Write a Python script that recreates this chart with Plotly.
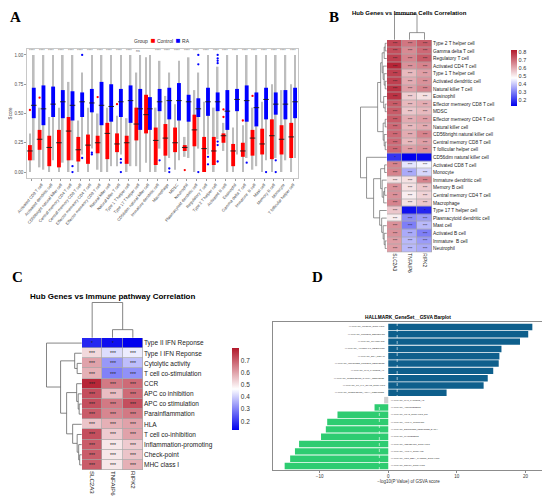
import plotly.graph_objects as go

W, H = 550, 503
# the page puts the figure 8px in from the window's top-left corner
OFF = 8


def fx(px):
    return (px - OFF) / W


def fy(py):
    return 1 - (py - OFF) / H


# ---------------- panel A data (ssGSEA scores, Control vs RA) ----------------
cells = ["Activated CD4 T cell", "Activated CD8 T cell", "Activated dendritic cell",
         "CD56bright natural killer cell", "Central memory CD4 T cell", "Central memory CD8 T cell",
         "Effector memeory CD4 T cell", "Effector memeory CD8 T cell", "Natural killer cell",
         "Natural killer T cell", "Type 1 T helper cell", "Type 17 T helper cell",
         "CD56dim natural killer cell", "Immature dendritic cell", "Macrophage", "MDSC",
         "Neutrophil", "Plasmacytoid dendritic cell", "Regulatory T cell", "Type 2 T helper cell",
         "Activated B cell", "Eosinophil", "Gamma delta T cell", "Immature  B cell", "Mast cell",
         "Memory B cell", "Monocyte", "T follicular helper cell"]

ctrl_q1 = [0.10, 0.19, 0.05, 0.04, 0.10, 0.09, 0.07, 0.16, 0.11, 0.17, 0.07, 0.27, 0.33, 0.06,
           0.14, 0.17, 0.18, 0.22, 0.00, 0.06, 0.25, 0.05, 0.13, 0.14, 0.15, 0.11, 0.15, 0.12]
ctrl_med = [0.18, 0.28, 0.21, 0.25, 0.35, 0.19, 0.23, 0.25, 0.33, 0.24, 0.25, 0.41, 0.49, 0.27,
            0.29, 0.25, 0.21, 0.36, 0.20, 0.18, 0.31, 0.18, 0.18, 0.29, 0.24, 0.31, 0.28, 0.30]
ctrl_q3 = [0.23, 0.36, 0.31, 0.36, 0.47, 0.30, 0.32, 0.31, 0.42, 0.33, 0.31, 0.55, 0.66, 0.38,
           0.41, 0.38, 0.23, 0.49, 0.30, 0.30, 0.33, 0.24, 0.25, 0.36, 0.37, 0.45, 0.40, 0.42]
ctrl_lo = [0.00, 0.04, 0.00, 0.00, 0.00, 0.00, 0.00, 0.02, 0.00, 0.05, 0.00, 0.05, 0.08, 0.00,
           0.00, 0.02, 0.13, 0.00, 0.00, 0.00, 0.18, 0.00, 0.00, 0.02, 0.00, 0.00, 0.00, 0.00]
ctrl_hi = [0.33, 0.55, 0.47, 0.55, 0.77, 0.44, 0.55, 0.50, 0.55, 0.48, 0.46, 0.85, 0.98, 0.55,
           0.65, 0.58, 0.30, 0.70, 0.60, 0.55, 0.42, 0.38, 0.40, 0.55, 0.60, 0.75, 0.70, 0.75]

ra_q1 = [0.46, 0.40, 0.47, 0.46, 0.44, 0.47, 0.51, 0.40, 0.43, 0.47, 0.42, 0.36, 0.36, 0.52,
         0.45, 0.44, 0.43, 0.47, 0.48, 0.52, 0.36, 0.52, 0.43, 0.39, 0.45, 0.49, 0.45, 0.46]
ra_med = [0.57, 0.54, 0.58, 0.60, 0.57, 0.60, 0.59, 0.57, 0.56, 0.60, 0.61, 0.54, 0.54, 0.60,
          0.61, 0.61, 0.60, 0.54, 0.60, 0.60, 0.52, 0.62, 0.61, 0.55, 0.62, 0.58, 0.58, 0.60]
ra_q3 = [0.72, 0.74, 0.73, 0.70, 0.69, 0.68, 0.71, 0.77, 0.75, 0.71, 0.74, 0.71, 0.64, 0.71,
         0.72, 0.76, 0.66, 0.63, 0.72, 0.68, 0.70, 0.71, 0.74, 0.68, 0.72, 0.68, 0.70, 0.72]
ra_lo = [0.10, 0.02, 0.10, 0.08, 0.10, 0.15, 0.20, 0.00, 0.05, 0.15, 0.05, 0.00, 0.00, 0.20,
         0.12, 0.10, 0.12, 0.20, 0.15, 0.28, 0.00, 0.15, 0.12, 0.05, 0.10, 0.12, 0.10, 0.12]
ra_hi = [1.00, 1.00, 1.00, 1.00, 1.00, 0.85, 1.00, 1.00, 1.00, 1.00, 1.00, 1.00, 1.00, 0.95,
         0.85, 0.95, 0.98, 0.85, 1.00, 0.90, 1.00, 1.00, 1.00, 1.00, 1.00, 1.00, 1.00, 1.00]

ctrl_out_idx = [0, 1, 7, 9, 16, 20, 20, 22, 23]
ctrl_out_val = [0.53, 0.635, 0.64, 0.58, 0.017, 0.535, 0.47, 0.44, 0.65]
ra_out_idx = [4, 4, 5, 5, 6, 6, 9, 9, 9, 13, 14, 14, 17, 17, 17, 18, 18,
              19, 19, 19, 19, 19, 19, 19, 22, 24, 25, 25]
ra_out_val = [0.05, 0.0, 1.0, 0.12, 0.165, 0.15, 0.11, 0.08, 0.0, 0.10, 0.03, 0.0, 1.0, 0.92, 0.0,
              0.13, 0.066, 1.0, 0.97, 0.95, 0.93, 0.26, 0.23, 0.09, 0.08, 0.0, 0.10, 0.0]

signif = ["****"] * 11 + ["ns", ""] + ["****"] * 15

# ---------------- panel B data (hub genes vs immune cells) ----------------
genes = ["SLC2A3", "TNFAIP6", "RIPK2"]
b_rows = ["Type 2 T helper cell", "Gamma delta T cell", "Regulatory T cell", "Activated CD4 T cell",
          "Type 1 T helper cell", "Activated dendritic cell", "Natural killer T cell", "Eosinophil",
          "Effector memeory CD8 T cell", "MDSC", "Effector memeory CD4 T cell", "Natural killer cell",
          "CD56bright natural killer cell", "Central memory CD8 T cell", "T follicular helper cell",
          "CD56dim natural killer cell", "Activated CD8 T cell", "Monocyte", "Immature dendritic cell",
          "Memory B cell", "Central memory CD4 T cell", "Macrophage", "Type 17 T helper cell",
          "Plasmacytoid dendritic cell", "Mast cell", "Activated B cell", "Immature  B cell",
          "Neutrophil"]
b_corr = [[0.75, 0.68, 0.72], [0.74, 0.65, 0.70], [0.76, 0.66, 0.72], [0.80, 0.64, 0.66],
          [0.76, 0.58, 0.62], [0.76, 0.60, 0.64], [0.78, 0.62, 0.66], [0.78, 0.55, 0.52],
          [0.72, 0.58, 0.60], [0.72, 0.56, 0.58], [0.72, 0.60, 0.62], [0.70, 0.58, 0.60],
          [0.70, 0.60, 0.66], [0.70, 0.58, 0.62], [0.70, 0.62, 0.64], [0.20, 0.13, 0.14],
          [0.66, 0.44, 0.46], [0.66, 0.36, 0.42], [0.52, 0.52, 0.66], [0.64, 0.52, 0.56],
          [0.64, 0.50, 0.54], [0.66, 0.52, 0.56], [0.56, 0.15, 0.18], [0.50, 0.32, 0.34],
          [0.64, 0.30, 0.38], [0.64, 0.36, 0.30], [0.62, 0.38, 0.34], [0.62, 0.38, 0.36]]
b_sig = [["***"] * 3 for _ in range(15)] + [["*", "", ""]] + \
        [["***"] * 3 for _ in range(6)] + [["***", "", "*"]] + [["***"] * 3 for _ in range(5)]

# dendrograms as [height, left, right]; leaves are row/column indices
b_row_tree = [26,
              [9,
               [6,
                [4.5, [2.5, [1.5, 0, 1], 2], [3.5, 3, [2.5, 4, [1.5, 5, 6]]]],
                [3, 7, [1.5, 8, 9]]],
               [3.5, [1.5, 10, 11], [2.5, 12, [1.5, 13, 14]]]],
              [20, 15,
               [13,
                [6, [2, 16, 17], [4.5, 18, [3, [2, 19, 20], 21]]],
                [7, 22, [5, 23, [3.5, 24, [2.5, 25, [1.5, 26, 27]]]]]]]]
b_col_tree = [25, 0, [7, 1, 2]]

# ---------------- panel C data (hub genes vs immune pathways) ----------------
c_rows = ["Type II IFN Reponse", "Type I IFN Reponse", "Cytolytic activity", "T cell co-stimulation",
          "CCR", "APC co inhibition", "APC co stimulation", "Parainflammation", "HLA",
          "T cell co-inhibition", "Inflammation-promoting", "Check-point", "MHC class I"]
c_corr = [[0.18, 0.15, 0.13], [0.52, 0.42, 0.44], [0.60, 0.33, 0.38], [0.58, 0.30, 0.32],
          [0.78, 0.66, 0.68], [0.72, 0.56, 0.68], [0.72, 0.66, 0.72], [0.70, 0.64, 0.66],
          [0.55, 0.58, 0.60], [0.72, 0.54, 0.60], [0.70, 0.50, 0.54], [0.70, 0.50, 0.55],
          [0.70, 0.50, 0.58]]
c_sig = [["*", "*", ""]] + [["***"] * 3 for _ in range(12)]
c_row_tree = [35, 0,
              [21,
               [7, 1, [4.5, 2, 3]],
               [15,
                [5, 4, [3.5, 5, [2.5, 6, 7]]],
                [9, 8, [4.5, 9, [3, 10, [2, 11, 12]]]]]]]
c_col_tree = [35, 0, [8, 1, 2]]

# ---------------- panel D data (GSVA barplot) ----------------
hallmarks = ["HALLMARK_MTORC1_SIGNALING", "HALLMARK_PROTEIN_SECRETION", "HALLMARK_GLYCOLYSIS",
             "HALLMARK_ALLOGRAFT_REJECTION", "HALLMARK_DNA_REPAIR", "HALLMARK_UNFOLDED_PROTEIN_RESPONSE",
             "HALLMARK_MYC_TARGETS_V1", "HALLMARK_INTERFERON_GAMMA_RESPONSE",
             "HALLMARK_IL6_JAK_STAT3_SIGNALING", "HALLMARK_INTERFERON_ALPHA_RESPONSE",
             "HALLMARK_MYC_TARGETS_V2", "HALLMARK_ANGIOGENESIS", "HALLMARK_KRAS_SIGNALING_DN",
             "HALLMARK_APICAL_JUNCTION", "HALLMARK_ESTROGEN_RESPONSE_EARLY", "HALLMARK_MYOGENESIS",
             "HALLMARK_HEDGEHOG_SIGNALING", "HALLMARK_APICAL_SURFACE",
             "HALLMARK_WNT_BETA_CATENIN_SIGNALING", "HALLMARK_NOTCH_SIGNALING"]
gsva = [21.0, 20.4, 19.2, 16.5, 16.2, 16.1, 15.3, 14.5, 13.9, 8.5,
        -0.6, -2.0, -7.4, -8.9, -9.1, -9.8, -13.0, -13.6, -14.3, -15.1]
threshold = 1.3

HEAT_SCALE = [[0, "#0000EE"], [0.5, "#FFFFFF"], [1, "#B2182B"]]
FONT = "Liberation Sans, Arial, sans-serif"
SERIF = "Liberation Serif, Times New Roman, serif"


def dendro_lines(node, hs, ps):
    if isinstance(node, int):
        return float(node), 0.0
    h, left, right = node
    p1, h1 = dendro_lines(left, hs, ps)
    p2, h2 = dendro_lines(right, hs, ps)
    hs += [h1, h, h, h2, None]
    ps += [p1, p1, p2, p2, None]
    return (p1 + p2) / 2, h


fig = go.Figure()

# ---- A: boxplots drawn as whisker bars + box bars + median ticks
n = len(cells)
pos_c = [i - 0.2 for i in range(n)]
pos_r = [i + 0.2 for i in range(n)]
for pos, lo, hi in ((pos_c, ctrl_lo, ctrl_hi), (pos_r, ra_lo, ra_hi)):
    fig.add_trace(go.Bar(x=pos, y=[b - a for a, b in zip(lo, hi)], base=lo, width=0.17,
                         marker=dict(color="#BDBDBD", line=dict(width=0)), hoverinfo="skip"))
for pos, q1, q3, col in ((pos_c, ctrl_q1, ctrl_q3, "#FF0000"), (pos_r, ra_q1, ra_q3, "#0000FF")):
    fig.add_trace(go.Bar(x=pos, y=[b - a for a, b in zip(q1, q3)], base=q1, width=0.4,
                         marker=dict(color=col, line=dict(width=0))))
for pos, med in ((pos_c, ctrl_med), (pos_r, ra_med)):
    fig.add_trace(go.Scatter(x=pos, y=med, mode="markers",
                             marker=dict(symbol="line-ew", size=4, line=dict(width=0.9, color="#1A1A1A"))))
fig.add_trace(go.Scatter(x=[i - 0.2 for i in ctrl_out_idx], y=ctrl_out_val, mode="markers",
                         marker=dict(size=2.3, color="#FF0000")))
fig.add_trace(go.Scatter(x=[i + 0.2 for i in ra_out_idx], y=ra_out_val, mode="markers",
                         marker=dict(size=2.3, color="#0000FF")))

# ---- B: heatmap + dendrograms
fig.add_trace(go.Heatmap(z=b_corr, x=list(range(3)), y=list(range(len(b_rows))), text=b_sig,
                         texttemplate="%{text}", textfont=dict(size=4, color="#222222", family=FONT),
                         colorscale=HEAT_SCALE, zmin=0.13, zmax=0.82, xgap=0.7, ygap=0.7,
                         xaxis="x2", yaxis="y2",
                         colorbar=dict(x=fx(501), xanchor="left", y=fy(78), yanchor="middle",
                                       len=76 / H, thickness=6, outlinewidth=0, ticks="",
                                       tickvals=[0.2, 0.3, 0.4, 0.5, 0.6, 0.7, 0.8],
                                       tickfont=dict(size=5.5, color="#333333", family=FONT))))
hs, ps = [], []
dendro_lines(b_row_tree, hs, ps)
fig.add_trace(go.Scatter(x=hs, y=ps, mode="lines", line=dict(color="#666666", width=0.7),
                         xaxis="x5", yaxis="y2"))
hs, ps = [], []
dendro_lines(b_col_tree, hs, ps)
fig.add_trace(go.Scatter(x=ps, y=hs, mode="lines", line=dict(color="#666666", width=0.7),
                         xaxis="x2", yaxis="y5"))

# ---- C: heatmap + dendrograms
fig.add_trace(go.Heatmap(z=c_corr, x=list(range(3)), y=list(range(len(c_rows))), text=c_sig,
                         texttemplate="%{text}", textfont=dict(size=5, color="#222222", family=FONT),
                         colorscale=HEAT_SCALE, zmin=0.13, zmax=0.8, xgap=0.7, ygap=0.7,
                         xaxis="x3", yaxis="y3",
                         colorbar=dict(x=fx(222), xanchor="left", y=fy(389), yanchor="middle",
                                       len=102 / H, thickness=7, outlinewidth=0, ticks="",
                                       tickvals=[0.2, 0.3, 0.4, 0.5, 0.6, 0.7],
                                       tickfont=dict(size=6.5, color="#333333", family=FONT))))
hs, ps = [], []
dendro_lines(c_row_tree, hs, ps)
fig.add_trace(go.Scatter(x=hs, y=ps, mode="lines", line=dict(color="#666666", width=0.8),
                         xaxis="x6", yaxis="y3"))
hs, ps = [], []
dendro_lines(c_col_tree, hs, ps)
fig.add_trace(go.Scatter(x=ps, y=hs, mode="lines", line=dict(color="#666666", width=0.8),
                         xaxis="x3", yaxis="y6"))

# ---- D: GSVA bars
bar_cols = ["#0E5F8C" if v > threshold else ("#2ECC71" if v < -threshold else "#CFCFCF") for v in gsva]
fig.add_trace(go.Bar(x=gsva, y=hallmarks, orientation="h", width=0.88,
                     marker=dict(color=bar_cols, line=dict(width=0)), xaxis="x4", yaxis="y4"))

fig.update_traces(showlegend=False)

annotations = []
for i, s in enumerate(signif):
    annotations.append(dict(x=i, y=1.03, xref="x", yref="y", text=s, showarrow=False,
                            font=dict(size=3.6, color="#666666", family=FONT)))
for name, v in zip(hallmarks, gsva):
    annotations.append(dict(x=0, y=name, xref="x4", yref="y4", text=name, showarrow=False,
                            xanchor="right" if v > 0 else "left", xshift=-1 if v > 0 else 1,
                            font=dict(size=2.2, color="#333333", family=FONT)))

annotations += [
    dict(x=fx(9), y=fy(17.5), text="<b>A</b>", xanchor="left", yanchor="middle", borderpad=0,
         font=dict(size=15, family=SERIF, color="black")),
    dict(x=fx(328), y=fy(17.5), text="<b>B</b>", xanchor="left", yanchor="middle", borderpad=0,
         font=dict(size=15, family=SERIF, color="black")),
    dict(x=fx(10), y=fy(277), text="<b>C</b>", xanchor="left", yanchor="middle",
         font=dict(size=15, family=SERIF, color="black")),
    dict(x=fx(310), y=fy(277), text="<b>D</b>", xanchor="left", yanchor="middle",
         font=dict(size=15, family=SERIF, color="black")),
    dict(x=fx(162), y=fy(40), xanchor="center", yanchor="middle",
         text="Group  <span style='color:#FF0000;font-size:8px'>■</span> Control  "
              "<span style='color:#0000FF;font-size:8px'>■</span> RA",
         font=dict(size=5, color="#333333", family=FONT)),
    dict(x=fx(409), y=1, text="<b>Hub Genes vs Immune Cells Correlation</b>",
         xanchor="center", yanchor="top", font=dict(size=6, color="black", family=FONT)),
    dict(x=fx(112), y=fy(296), text="<b>Hub Genes vs Immune pathway Correlation</b>",
         xanchor="center", yanchor="middle", font=dict(size=8, color="black", family=FONT)),
    dict(x=fx(408), y=fy(317), text="<b>HALLMARK_GeneSet__GSVA Barplot</b>",
         xanchor="center", yanchor="middle", font=dict(size=4.8, color="black", family=FONT)),
]
for a in annotations:
    a.setdefault("showarrow", False)
    a.setdefault("xref", "paper")
    a.setdefault("yref", "paper")

shapes = [
    dict(type="rect", xref="x2 domain", yref="y2 domain", x0=0, x1=1, y0=0, y1=1,
         fillcolor="#A8A8A8", line=dict(width=0), layer="below"),
    dict(type="rect", xref="x3 domain", yref="y3 domain", x0=0, x1=1, y0=0, y1=1,
         fillcolor="#A8A8A8", line=dict(width=0), layer="below"),
]
for t in (-threshold, threshold):
    shapes.append(dict(type="line", xref="x4", yref="y4 domain", x0=t, x1=t, y0=0, y1=1,
                       line=dict(color="white", width=0.6, dash="dot"), layer="above"))

hidden = dict(visible=False, showgrid=False, zeroline=False, automargin=False)
fig.update_layout(
    width=W, height=H, margin=dict(l=0, r=0, t=0, b=0, pad=0, autoexpand=False),
    paper_bgcolor="white", plot_bgcolor="white", barmode="overlay",
    font=dict(family=FONT), showlegend=False,
    annotations=annotations, shapes=shapes,
    xaxis=dict(domain=[fx(27), fx(298)], range=[-0.5, n - 0.5], tickvals=list(range(n)),
               ticktext=cells, tickangle=-50, tickfont=dict(size=4.1, color="#4D4D4D"),
               ticks="outside", ticklen=2, tickcolor="#999999", showline=True, mirror=True,
               linecolor="#C8C8C8", linewidth=0.8, showgrid=False, zeroline=False, anchor="y",
               automargin=False),
    yaxis=dict(domain=[fy(178), fy(49)], range=[-0.051, 1.051], tickvals=[0, 0.25, 0.5, 0.75, 1],
               ticktext=["0.00", "0.25", "0.50", "0.75", "1.00"],
               tickfont=dict(size=4.5, color="#4D4D4D"), ticks="outside", ticklen=2,
               tickcolor="#999999", showline=True, mirror=True, linecolor="#C8C8C8",
               linewidth=0.8, showgrid=False, zeroline=False, anchor="x", automargin=False,
               title=dict(text="Score", font=dict(size=4.5, color="#333333"), standoff=2)),
    xaxis2=dict(domain=[fx(387), fx(432)], range=[-0.5, 2.5], tickvals=[0, 1, 2], ticktext=genes,
                tickangle=90, tickfont=dict(size=4.8, color="#222222"), ticks="",
                showgrid=False, zeroline=False, showline=False, anchor="y2", automargin=False),
    yaxis2=dict(domain=[fy(252.3), fy(39.5)], range=[len(b_rows) - 0.5, -0.5],
                tickvals=list(range(len(b_rows))), ticktext=b_rows, side="right",
                tickfont=dict(size=4.8, color="#222222"), ticks="", showgrid=False,
                zeroline=False, showline=False, anchor="x2", automargin=False),
    xaxis3=dict(domain=[fx(82), fx(143)], range=[-0.5, 2.5], tickvals=[0, 1, 2], ticktext=genes,
                tickangle=90, tickfont=dict(size=6.1, color="#222222"), ticks="",
                showgrid=False, zeroline=False, showline=False, anchor="y3", automargin=False),
    yaxis3=dict(domain=[fy(470), fy(338)], range=[len(c_rows) - 0.5, -0.5],
                tickvals=list(range(len(c_rows))), ticktext=c_rows, side="right",
                tickfont=dict(size=6.5, color="#222222"), ticks="", showgrid=False,
                zeroline=False, showline=False, anchor="x3", automargin=False),
    xaxis4=dict(domain=[fx(273), fx(544)], range=[-16.8, 22.7], tickvals=[-10, 0, 10, 20],
                tickfont=dict(size=4.5, color="#333333"), ticks="outside", ticklen=2,
                tickcolor="#888888", showline=True, mirror=True, linecolor="#8C8C8C",
                linewidth=0.8, showgrid=False, zeroline=False, anchor="y4", automargin=False,
                title=dict(text="−log10(P Value) of GSVA score", font=dict(size=4.5, color="#333333"),
                           standoff=1)),
    yaxis4=dict(domain=[fy(470), fy(322)], range=[len(hallmarks) - 0.45, -0.68], type="category",
                showticklabels=False, ticks="", showline=True, mirror=True, linecolor="#8C8C8C",
                linewidth=0.8, showgrid=False, zeroline=False, anchor="x4", automargin=False),
    xaxis5=dict(domain=[fx(360), fx(387)], range=[26.5, -0.3], anchor="y2", **hidden),
    yaxis5=dict(domain=[fy(40), fy(14)], range=[-0.3, 25.5], anchor="x2", **hidden),
    xaxis6=dict(domain=[fx(46), fx(82)], range=[35.5, -0.3], anchor="y3", **hidden),
    yaxis6=dict(domain=[fy(338), fy(302)], range=[-0.3, 35.5], anchor="x3", **hidden),
)

fig.write_html("out.html")
